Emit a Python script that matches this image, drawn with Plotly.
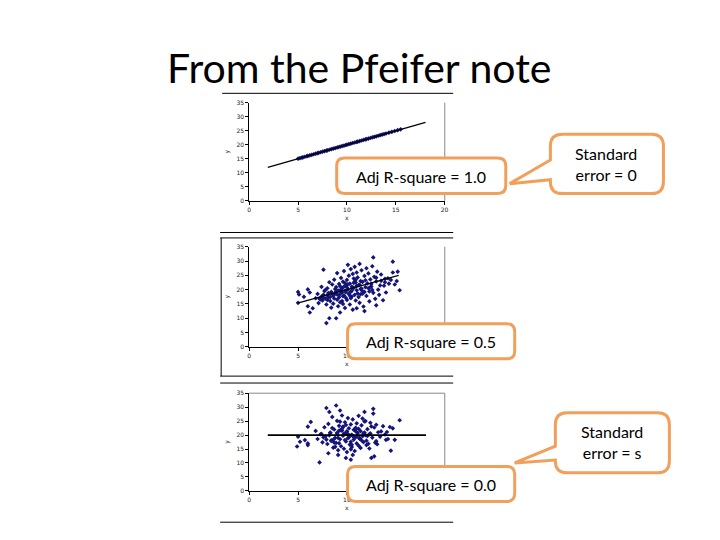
import plotly.graph_objects as go

# ---------------- data ----------------
x_ticks = [0, 5, 10, 15, 20]
y_ticks = [0, 5, 10, 15, 20, 25, 30, 35]

# Panel 1: perfect fit (Adj R-square = 1.0)
p1_x = [5.0, 5.2, 5.4, 5.5, 5.7, 5.9, 6.0, 6.2, 6.4, 6.6, 6.8, 7.0, 7.1, 7.3, 7.5, 7.7,
        7.9, 8.0, 8.2, 8.4, 8.6, 8.8, 9.0, 9.1, 9.3, 9.5, 9.7, 9.9, 10.0, 10.2, 10.4,
        10.6, 10.8, 11.0, 11.1, 11.3, 11.5, 11.7, 11.9, 12.0, 12.2, 12.4, 12.6, 12.8,
        13.0, 13.2, 13.4, 13.6, 13.8, 14.0, 14.3, 14.6, 14.9, 15.2, 15.5]
p1_y = [15.0, 15.2, 15.4, 15.5, 15.7, 15.9, 16.0, 16.2, 16.4, 16.6, 16.8, 17.0, 17.1, 17.3,
        17.5, 17.7, 17.9, 18.0, 18.2, 18.4, 18.6, 18.8, 19.0, 19.1, 19.3, 19.5, 19.7, 19.9,
        20.0, 20.2, 20.4, 20.6, 20.8, 21.0, 21.1, 21.3, 21.5, 21.7, 21.9, 22.0, 22.2, 22.4,
        22.6, 22.8, 23.0, 23.2, 23.4, 23.6, 23.8, 24.0, 24.3, 24.6, 24.9, 25.2, 25.5]
p1_line_x = [1.9, 18.05]
p1_line_y = [11.9, 28.0]

# Panel 2: moderate fit (Adj R-square = 0.5)
p2_x = [5.0, 5.1, 5.0, 5.6, 6.0, 6.2, 6.0, 6.2, 6.5, 6.8, 7.0, 7.1, 7.2, 7.4, 7.4, 7.6, 7.5,
        7.7, 7.8, 7.9, 7.9, 8.0, 8.0, 8.1, 8.2, 8.2, 8.3, 8.4, 8.4, 8.5, 8.6, 8.6, 8.7, 8.8,
        8.9, 8.9, 9.0, 9.0, 9.1, 9.1, 9.2, 9.2, 9.3, 9.3, 9.4, 9.4, 9.5, 9.5, 9.6, 9.6, 9.7,
        9.7, 9.8, 9.8, 9.9, 9.9, 10.0, 10.0, 10.1, 10.1, 10.2, 10.2, 10.3, 10.3, 10.4, 10.4,
        10.5, 10.5, 10.6, 10.6, 10.7, 10.7, 10.8, 10.8, 10.9, 10.9, 11.0, 11.0, 11.0, 11.1,
        11.2, 11.2, 11.3, 11.3, 11.4, 11.4, 11.5, 11.6, 11.6, 11.7, 11.8, 11.8, 11.9, 12.0,
        12.0, 12.1, 12.2, 12.3, 12.3, 12.4, 12.5, 12.6, 12.7, 12.7, 12.8, 12.9, 13.0, 13.0,
        13.1, 13.2, 13.3, 13.5, 13.5, 13.7, 13.8, 13.9, 14.0, 14.2, 14.5, 14.7, 14.7, 14.9,
        15.1, 15.4, 15.2, 9.0, 9.5, 10.0, 10.5, 11.0, 8.5, 9.8, 10.4, 11.5, 8.0, 9.3, 10.9,
        11.8, 12.5, 7.6,
        7.3, 7.6, 7.8, 8.1, 8.3, 8.7, 8.9, 9.2, 9.4, 9.6, 9.9, 10.1, 10.3, 10.6, 10.8, 11.1,
        11.3, 11.6, 11.9, 12.2, 12.6, 13.0, 13.4, 13.9, 14.3, 8.8, 9.7, 10.7, 11.4, 12.4]
p2_y = [19.2, 18.3, 15.4, 17.5, 20.1, 19.0, 14.2, 12.0, 13.5, 17.0, 18.5, 15.3, 16.8, 17.6,
        21.0, 27.0, 16.2, 19.5, 16.9, 8.3, 14.8, 18.0, 20.5, 17.2, 10.0, 22.6, 16.0, 19.2,
        13.7, 21.8, 17.8, 15.1, 23.5, 18.6, 10.0, 20.9, 16.5, 25.8, 14.2, 19.7, 22.0, 17.3,
        12.0, 21.2, 18.8, 24.1, 16.0, 20.4, 15.0, 22.8, 18.0, 26.5, 19.6, 13.6, 21.5, 17.1,
        23.4, 16.4, 20.0, 28.7, 18.5, 24.9, 14.8, 22.1, 19.3, 27.2, 17.6, 21.0, 25.5, 13.0,
        20.6, 23.9, 18.2, 28.0, 16.2, 22.5, 13.5, 26.0, 19.8, 24.3, 21.6, 17.4, 29.0, 15.4,
        23.0, 20.2, 26.8, 18.6, 22.7, 14.1, 12.5, 24.8, 20.9, 27.5, 17.8, 22.2, 25.7, 19.4,
        15.9, 23.6, 21.1, 28.2, 31.3, 18.9, 24.5, 16.8, 14.5, 22.9, 26.3, 20.0, 18.2, 25.3,
        23.1, 16.3, 21.4, 22.6, 19.0, 24.0, 23.4, 26.0, 29.8, 21.8, 23.0, 19.8, 26.3, 18.3,
        19.0, 20.8, 19.6, 21.3, 18.7, 22.3, 17.0, 20.4, 16.4, 15.6, 23.5, 19.2, 22.0, 18.2,
        16.6, 17.1, 19.9, 18.8, 17.5, 16.9, 19.4, 18.1, 20.1, 17.7, 19.1, 21.9, 17.9, 20.7,
        22.9, 18.7, 21.7, 19.5, 23.3, 20.5, 19.9, 24.2, 21.5, 23.8, 22.1, 20.2, 21.1, 22.4,
        18.4, 20.9]
p2_line_x = [4.95, 15.3]
p2_line_y = [15.3, 25.0]

# Panel 3: no fit (Adj R-square = 0.0)
p3_x = [4.9, 5.0, 5.2, 5.7, 6.0, 6.0, 6.3, 6.0, 7.2, 7.9, 8.2, 8.9, 9.3, 11.8, 12.7, 12.7,
        12.5, 12.8, 14.5, 15.4, 14.7, 14.9, 14.0, 13.5, 8.1, 9.1, 9.9, 10.4, 10.6,
        6.8, 7.0, 7.3, 7.5, 7.7, 7.8, 8.0, 8.1, 8.3, 8.4, 8.5, 8.6, 8.7, 8.8, 8.9, 9.0, 9.0,
        9.1, 9.2, 9.3, 9.4, 9.4, 9.5, 9.6, 9.6, 9.7, 9.8, 9.8, 9.9, 10.0, 10.0, 10.1, 10.1,
        10.2, 10.3, 10.3, 10.4, 10.5, 10.5, 10.6, 10.7, 10.7, 10.8, 10.9, 10.9, 11.0, 11.0,
        11.1, 11.2, 11.2, 11.3, 11.4, 11.4, 11.5, 11.6, 11.7, 11.8, 11.9, 12.0, 12.1, 12.2,
        12.3, 12.4, 12.6, 12.8, 13.0, 13.2, 13.4, 13.7, 13.9, 14.2, 14.4, 8.2, 8.6, 9.2,
        9.7, 10.2, 10.8, 11.3, 11.9, 12.4, 8.4, 9.5, 10.6, 11.5, 9.0, 10.0, 11.0, 7.4, 13.0,
        12.0, 9.3, 10.4, 11.6, 8.8, 10.9, 12.9, 7.6, 14.1,
        7.9, 8.3, 8.7, 9.1, 9.5, 9.8, 10.1, 10.4, 10.7, 11.0, 11.3, 11.7, 12.1, 12.5, 13.1,
        8.5, 9.2, 9.9, 10.5, 11.2, 11.8, 12.3, 9.6, 10.3, 11.1]
p3_y = [15.9, 19.4, 17.6, 18.2, 17.0, 16.4, 24.7, 23.0, 10.2, 29.7, 28.3, 30.6, 28.8, 28.3,
        29.4, 27.7, 11.8, 12.4, 14.4, 25.3, 22.4, 18.3, 18.3, 21.3, 13.5, 12.9, 11.8, 11.2,
        12.9,
        21.5, 18.6, 20.3, 17.4, 22.8, 19.5, 16.8, 24.0, 20.9, 18.1, 26.5, 15.5, 22.0, 19.0,
        17.2, 25.1, 20.6, 14.6, 23.3, 18.5, 21.7, 16.0, 27.0, 19.8, 22.9, 15.1, 20.4, 24.6,
        17.7, 21.2, 13.9, 18.9, 26.1, 22.4, 16.6, 19.9, 23.8, 15.7, 20.1, 25.6, 18.4, 21.9,
        14.3, 22.6, 19.3, 17.0, 24.2, 20.7, 16.2, 26.9, 18.8, 21.4, 15.4, 23.5, 19.6, 17.5,
        20.9, 25.0, 18.0, 22.1, 16.9, 20.3, 24.4, 19.1, 22.7, 17.8, 21.0, 19.4, 23.2, 20.2,
        18.6, 22.9, 19.9, 18.3, 21.6, 20.5, 19.2, 21.8, 18.7, 20.0, 20.6, 17.9, 22.3, 19.7,
        18.1, 20.8, 21.3, 19.5, 20.4, 23.7, 16.4, 24.8, 14.9, 25.9, 15.8, 22.0, 17.3,
        19.2, 21.1, 18.4, 20.7, 17.3, 19.0, 21.6, 18.2, 20.3, 17.6, 19.4, 21.0, 18.9, 20.6,
        19.7, 23.1, 16.7, 22.5, 17.1, 23.6, 16.5, 22.2, 24.9, 15.2, 23.0]
p3_line_x = [1.9, 18.1]
p3_line_y = [20.0, 20.0]

title_text = "From the Pfeifer note"
callout_r2 = ["Adj R-square = 1.0", "Adj R-square = 0.5", "Adj R-square = 0.0"]
callout_se = ["Standard<br>error = 0", "Standard<br>error = s"]

# ---------------- layout helpers ----------------
W, H = 720, 540
def px(x):
    return x / W
def py(y):
    return 1 - y / H

NAVY = "#14147a"
ORANGE = "#F0A05A"
FONT = "Lato"

fig = go.Figure()

panels = [
    (p1_x, p1_y, p1_line_x, p1_line_y, (100.0, 199.3)),
    (p2_x, p2_y, p2_line_x, p2_line_y, (246.0, 347.3)),
    (p3_x, p3_y, p3_line_x, p3_line_y, (394.3, 493.3)),
]

for i, (sx, sy, lx, ly, (ytop, ybot)) in enumerate(panels, start=1):
    xa = "x" if i == 1 else f"x{i}"
    ya = "y" if i == 1 else f"y{i}"
    fig.add_trace(go.Scatter(x=sx, y=sy, mode="markers", xaxis=xa, yaxis=ya,
                             marker=dict(symbol="diamond", size=3.6, color=NAVY),
                             showlegend=False, hoverinfo="skip"))
    fig.add_trace(go.Scatter(x=lx, y=ly, mode="lines", xaxis=xa, yaxis=ya,
                             line=dict(color="black", width=1.8 if i == 3 else 1.2),
                             showlegend=False, hoverinfo="skip"))
    axcommon = dict(showgrid=False, zeroline=False, showline=True, linecolor="black",
                    linewidth=1, ticks="outside", ticklen=3, tickwidth=1,
                    tickcolor="black", tickfont=dict(family="DejaVu Sans", size=6, color="#222"))
    xkey = "xaxis" if i == 1 else f"xaxis{i}"
    ykey = "yaxis" if i == 1 else f"yaxis{i}"
    fig.update_layout(**{
        xkey: dict(domain=[px(249.3), px(446.3)], range=[0, 20], tickvals=x_ticks,
                   anchor=ya, title=dict(text="x", font=dict(family="DejaVu Sans", size=6,
                                                             color="#222"),
                                         standoff=3), **axcommon),
        ykey: dict(domain=[py(ybot), py(ytop)], range=[0, 35], tickvals=y_ticks,
                   anchor=xa, title=dict(text="y", font=dict(family="DejaVu Sans", size=6,
                                                             color="#222"),
                                         standoff=6), **axcommon),
    })

shapes = []
def line(x0, y0, x1, y1, color="black", w=1):
    shapes.append(dict(type="line", xref="paper", yref="paper", x0=px(x0), y0=py(y0),
                       x1=px(x1), y1=py(y1), line=dict(color=color, width=w), layer="below"))

# screenshot frame lines
line(222, 90.5, 455, 90.5)
line(220, 231.5, 455, 231.5)
line(220, 237, 455, 237)
line(221, 237, 221, 377)
line(220, 377, 455, 377)
line(220, 384, 455, 384)
line(220, 525, 455, 525)
# plot area borders (gray)
line(446.5, 100, 446.5, 199.3, "#888")
line(446.5, 246, 446.5, 347.3, "#888")
line(249.3, 394.3, 446.5, 394.3, "#888")
line(446.5, 394.3, 446.5, 493.3, "#888")

def callout_path(x0, y0, x1, y1, r, tail=None):
    def P(x, y):
        return f"{px(x):.5f},{py(y):.5f}"
    d = f"M {P(x0 + r, y0)} L {P(x1 - r, y0)} Q {P(x1, y0)} {P(x1, y0 + r)} "
    d += f"L {P(x1, y1 - r)} Q {P(x1, y1)} {P(x1 - r, y1)} "
    d += f"L {P(x0 + r, y1)} Q {P(x0, y1)} {P(x0, y1 - r)} "
    if tail:
        tx, ty, b0, b1 = tail
        d += f"L {P(x0, b1)} L {P(tx, ty)} L {P(x0, b0)} "
    d += f"L {P(x0, y0 + r)} Q {P(x0, y0)} {P(x0 + r, y0)} Z"
    return d

boxes = [
    ((337.5, 156, 508, 192), 8, None),
    ((348.5, 324, 517, 359.5), 8, None),
    ((348.5, 468.5, 517, 504), 8, None),
    ((553, 132, 667, 192), 12, (512, 182, 158, 178)),
    ((558, 414, 673, 475), 12, (517, 465, 448, 462)),
]
for (x0, y0, x1, y1), r, tail in boxes:
    shapes.append(dict(type="path", xref="paper", yref="paper",
                       path=callout_path(x0, y0, x1, y1, r, tail),
                       fillcolor="white", line=dict(color=ORANGE, width=3), layer="above"))

annotations = [
    dict(text=title_text, x=px(360), y=py(64), xref="paper", yref="paper",
         showarrow=False, font=dict(family=FONT, size=41, color="black"),
         xanchor="center", yanchor="middle"),
]
for txt, (cx, cy) in zip(callout_r2, [(422.5, 174.5), (432.5, 342), (432.5, 486.5)]):
    annotations.append(dict(text=txt, x=px(cx), y=py(cy), xref="paper", yref="paper",
                            showarrow=False, font=dict(family=FONT, size=16, color="black"),
                            xanchor="center", yanchor="middle"))
for txt, (cx, cy) in zip(callout_se, [(609, 162), (615.5, 444)]):
    annotations.append(dict(text=txt, x=px(cx), y=py(cy), xref="paper", yref="paper",
                            showarrow=False, font=dict(family=FONT, size=16, color="black"),
                            xanchor="center", yanchor="middle"))

fig.update_layout(width=W, height=H, autosize=False,
                  margin=dict(l=0, r=0, t=0, b=0),
                  paper_bgcolor="white", plot_bgcolor="rgba(0,0,0,0)",
                  shapes=shapes, annotations=annotations)

fig.write_html("out.html", config={"displayModeBar": False, "staticPlot": True},
               post_script="document.body.style.margin='0';")
